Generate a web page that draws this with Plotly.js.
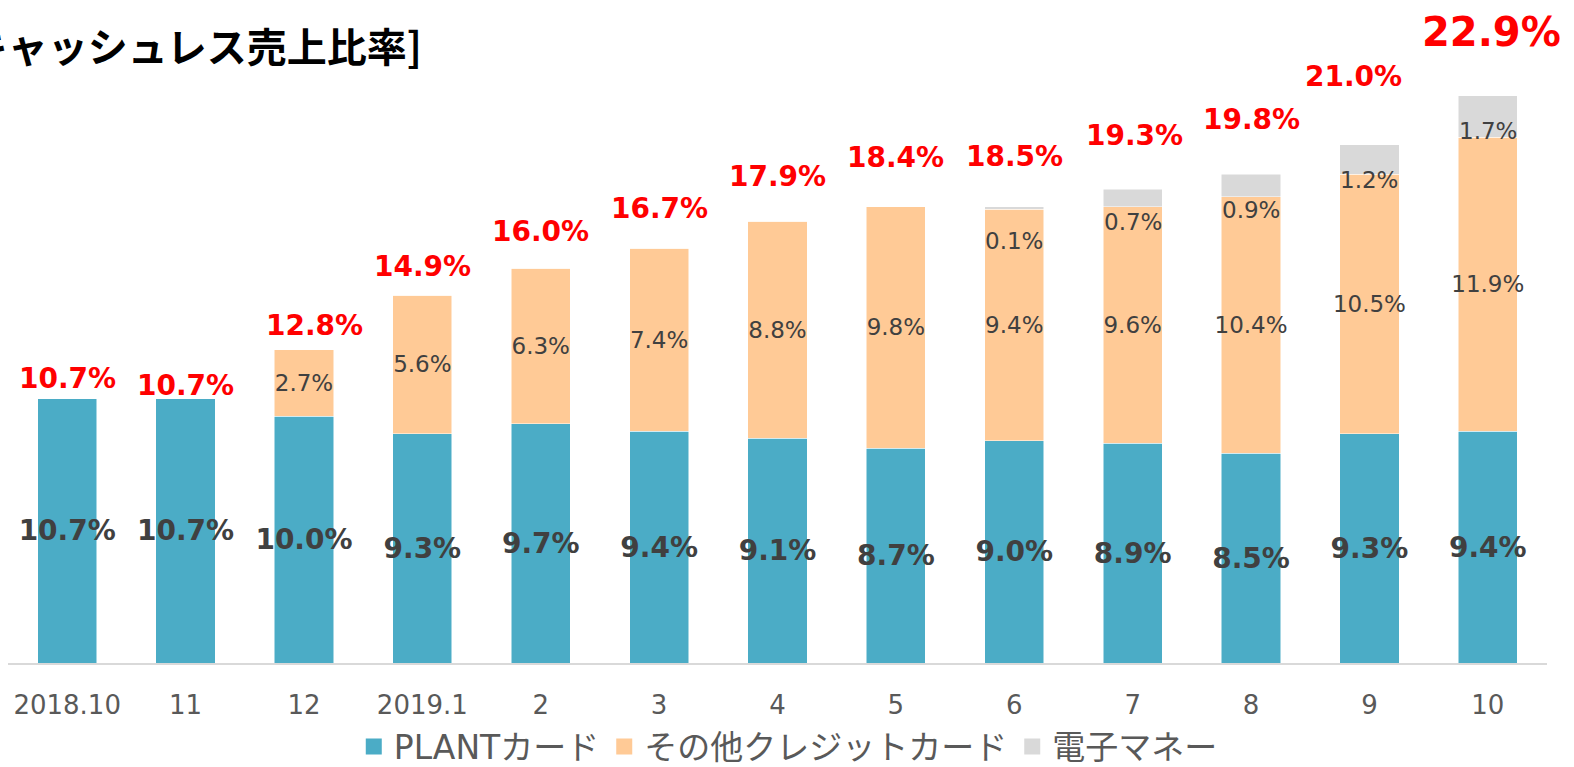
<!DOCTYPE html>
<html>
<head>
<meta charset="utf-8">
<script src="https://cdn.plot.ly/plotly-3.0.1.min.js"></script>
<style>html,body{margin:0;padding:0;background:#fff;}#chart{width:1574px;height:767px;}</style>
</head>
<body>
<div id="chart"></div>
<script>
// ---- data ----
const months = ["2018.10","11","12","2019.1","2","3","4","5","6","7","8","9","10"];
const plantCard = [10.7,10.7,10.0,9.3,9.7,9.4,9.1,8.7,9.0,8.9,8.5,9.3,9.4];
const otherCredit = [0,0,2.7,5.6,6.3,7.4,8.8,9.8,9.4,9.6,10.4,10.5,11.9];
const eMoney = [0,0,0,0,0,0,0,0,0.1,0.7,0.9,1.2,1.7];
const totalLabels = ["10.7%","10.7%","12.8%","14.9%","16.0%","16.7%","17.9%","18.4%","18.5%","19.3%","19.8%","21.0%","22.9%"];
const seriesNames = ["PLANTカード","その他クレジットカード","電子マネー"];

// ---- styling (pixel offsets for label placement) ----
const totalYShift = [20,13,24,29,37,40,45,49,50,54,55,68,64];
const totalXShift = [0,0,11,0,0,0,0,0,0,2,0,-16,4];
const eMoneyYShift = [0,0,0,0,0,0,0,0,-32,-15,-13,-6,6];
const colors = ["#4BACC6","#FFCA96","#D9D9D9"];
const fontFam = "DejaVu Sans, Noto Sans CJK JP, sans-serif";

const pct = v => v.toFixed(1) + "%";
const idx = months.map((m,i) => i);

const traces = [
  {type:"bar", x:idx, y:plantCard, name:seriesNames[0], showlegend:false,
   marker:{color:colors[0], line:{color:"#ffffff", width:0.5}},
   text:plantCard.map(pct), textposition:"inside", insidetextanchor:"middle",
   textangle:0, constraintext:"none", cliponaxis:false,
   textfont:{family:fontFam, size:28, color:"#404040", weight:"bold"}, hoverinfo:"skip"},
  {type:"bar", x:idx, y:otherCredit, name:seriesNames[1], showlegend:false,
   marker:{color:colors[1], line:{color:"#ffffff", width:0.5}},
   text:otherCredit.map(v => v > 0 ? pct(v) : ""), textposition:"inside", insidetextanchor:"middle",
   textangle:0, constraintext:"none", cliponaxis:false,
   textfont:{family:fontFam, size:23, color:"#404040"}, hoverinfo:"skip"},
  {type:"bar", x:idx, y:eMoney, name:seriesNames[2], showlegend:false,
   marker:{color:colors[2], line:{color:"#ffffff", width:0.5}},
   hoverinfo:"skip"}
];
// legend-only entries with larger square swatches
seriesNames.forEach((n,i) => {
  traces.push({type:"scatter", mode:"markers", x:[null], y:[null], name:n,
    marker:{symbol:"square", size:18, color:colors[i]}, hoverinfo:"skip"});
});

const annotations = [];
idx.forEach(i => {
  const base = plantCard[i] + otherCredit[i];
  const top = base + eMoney[i];
  annotations.push({x:i, y:top, xref:"x", yref:"y", text:totalLabels[i], showarrow:false,
    yanchor:"middle", xanchor:"center", yshift:totalYShift[i], xshift:totalXShift[i],
    font:{family:fontFam, size: i === months.length-1 ? 40 : 28, color:"#FF0000", weight:"bold"}});
  if (eMoney[i] > 0) {
    annotations.push({x:i, y:base, xref:"x", yref:"y", text:pct(eMoney[i]), showarrow:false,
      yanchor:"middle", xanchor:"center", yshift:eMoneyYShift[i],
      font:{family:fontFam, size:23, color:"#404040"}});
  }
});

const layout = {
  width:1574, height:767,
  margin:{l:8, r:27, t:20, b:104, autoexpand:false},
  paper_bgcolor:"#ffffff", plot_bgcolor:"#ffffff",
  barmode:"stack", bargap:0.5,
  title:{text:"[キャッシュレス売上比率]", xref:"container", yref:"container",
    x:422/1574, xanchor:"right", y:1-48/767, yanchor:"middle",
    font:{family:"Noto Sans CJK JP, sans-serif", size:40, color:"#000000", weight:"bold"}},
  xaxis:{type:"linear", range:[-0.5, months.length-0.5], autorange:false,
    tickmode:"array", tickvals:idx, ticktext:months,
    showline:true, linecolor:"#D9D9D9", linewidth:2,
    ticks:"", showgrid:false, zeroline:false, ticklabelstandoff:18,
    tickfont:{family:fontFam, size:26, color:"#595959"}},
  yaxis:{visible:false, range:[0,26.06], autorange:false, showgrid:false, zeroline:false},
  showlegend:true,
  legend:{orientation:"h", traceorder:"normal", x:0.507, xanchor:"center", y:-0.13, yanchor:"middle",
    bgcolor:"rgba(0,0,0,0)",
    font:{family:fontFam, size:33, color:"#595959"}, itemclick:false},
  annotations:annotations
};

Plotly.newPlot("chart", traces, layout, {staticPlot:true, displayModeBar:false});
</script>
</body>
</html>
